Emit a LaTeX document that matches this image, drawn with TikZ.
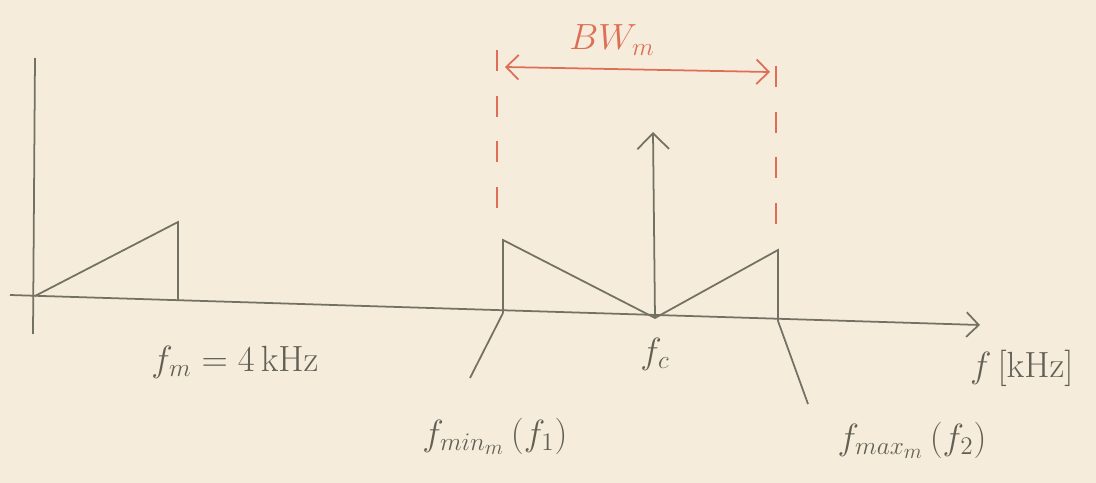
\documentclass[tikz,border=0pt]{standalone}
\usetikzlibrary{arrows.meta}
\definecolor{papel}{RGB}{246,236,220}
\definecolor{lapiz}{RGB}{115,113,100}
\definecolor{rojo}{RGB}{222,110,85}
\tikzset{
    lapiz/.style={draw=lapiz, line width=1pt},
    etiqueta/.style={text=lapiz!85!black, font=\huge, inner sep=1pt},
    cota/.style={draw=rojo, line width=1pt, dash pattern=on 12pt off 14pt},
}
\begin{document}
\begin{tikzpicture}[x=0.02cm, y=-0.02cm]
    \fill[papel] (0,0) rectangle (1096,483);
    \useasboundingbox (0,0) rectangle (1096,483);

    % Ejes
    \coordinate (o) at (35,296);
    \coordinate (ytop) at (35,58);
    \coordinate (ybot) at (33,334);
    \coordinate (xend) at (980,325);
    \draw[lapiz] (ybot) -- (ytop);
    \draw[lapiz, -{Straight Barb[length=7pt]}] (10,295) -- (xend);
    \node[etiqueta, anchor=west] (eje) at (968,368) {$f\,[\mathrm{kHz}]$};

    % Espectro del mensaje
    \coordinate (mtop) at (178,222);
    \coordinate (mbot) at (178,300);
    \draw[lapiz] (o) -- (mtop) -- (mbot);
    \node[etiqueta] (fm) at (235,362) {$f_{m}=4\,\mathrm{kHz}$};

    % Espectro modulado (bandas laterales)
    \coordinate (lbot) at (503,313);
    \coordinate (ltop) at (503,240);
    \coordinate (cbot) at (655,318);
    \coordinate (rtop) at (778,250);
    \coordinate (rbot) at (778,321);
    \draw[lapiz] (lbot) -- (ltop) -- (cbot) -- (rtop) -- (rbot);
    \draw[lapiz, -{Straight Barb[length=9pt]}] (cbot) -- (653,132);
    \node[etiqueta] (fc) at (655,354) {$f_c$};

    % Etiquetas de los extremos
    \node[etiqueta] (fmin) at (495,436) {$f_{min_m}\,(f_1)$};
    \node[etiqueta] (fmax) at (912,440) {$f_{max_m}\,(f_2)$};
    \draw[lapiz] (lbot) -- (470,378);
    \draw[lapiz] (rbot) -- (808,404);

    % Ancho de banda
    \coordinate (bw1) at (497,50);
    \coordinate (bw2) at (776,66);
    \draw[cota] (bw1) -- (497,232);
    \draw[cota] (bw2) -- (776,244);
    \draw[draw=rojo, line width=1pt, {Straight Barb[length=7pt]}-{Straight Barb[length=7pt]}]
        (505,67) -- (770,72);
    \node[text=rojo, font=\huge] (bw) at (612,40) {$BW_m$};
\end{tikzpicture}
\end{document}
